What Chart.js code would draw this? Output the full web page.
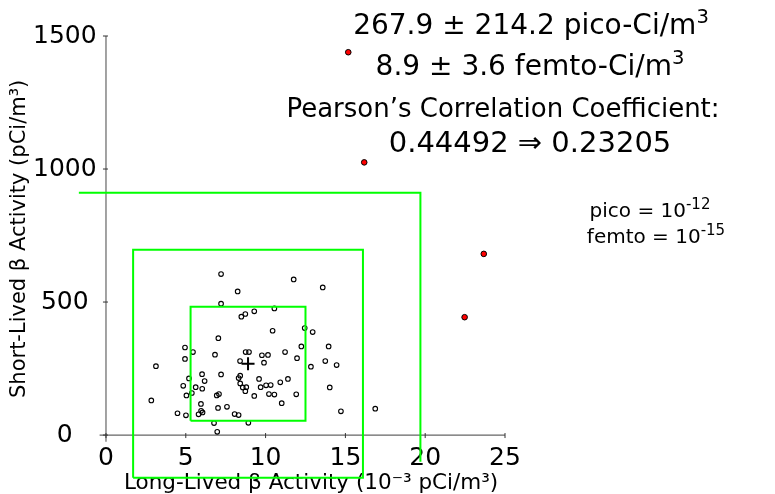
<!DOCTYPE html>
<html><head><meta charset="utf-8">
<script src="https://cdn.jsdelivr.net/npm/chart.js@4.4.1/dist/chart.umd.min.js"></script>
<style>html,body{margin:0;padding:0;background:#fff;}#wrap{width:775px;height:494px;position:relative;}</style>
</head><body><div id="wrap"><canvas id="c" width="775" height="494"></canvas></div>
<script>
// Long-lived beta activity (10^-3 pCi/m^3)
const longLived = [7.21,8.25,11.76,13.58,7.21,8.48,8.73,9.29,10.55,10.44,12.45,12.95,7.04,6.83,8.75,8.96,9.77,10.15,11.22,12.24,13.95,8.40,9.90,11.97,12.84,13.74,14.45,7.21,8.41,8.31,9.59,11.40,10.92,8.41,8.57,8.79,8.73,9.69,10.03,10.32,14.02,6.94,7.08,9.29,10.21,10.55,11.92,11.01,7.02,7.58,8.06,8.31,14.72,16.87,6.77,8.92,6.97,4.95,5.45,4.95,3.13,6.02,5.20,6.18,4.84,5.62,6.03,5.38,5.04,2.84,5.95,5.96,6.05,5.80,4.48,5.01];
// Short-lived beta activity (pCi/m^3)
const shortLived = [605,540,585,555,494,445,455,465,476,392,402,387,364,302,312,312,300,301,312,333,333,278,272,289,257,278,263,228,223,214,211,211,198,194,179,180,165,180,187,188,179,149,154,147,154,152,153,120,102,106,79,75,89,99,45,46,12,329,312,286,259,229,213,203,185,180,174,158,149,130,117,91,85,78,82,74];
// Rejected outliers
const outlierLong = [15.18,16.18,23.67,22.47];
const outlierShort = [1439,1025,681,443];
// Statistics
const meanLong = 8.9, sdLong = 3.6;
const meanShort = 267.9, sdShort = 214.2;
const xTicks = [0,5,10,15,20,25];
const yTicks = [0,500,1000,1500];

const pts = longLived.map((x,i)=>({x:x,y:shortLived[i]}));
const outPts = outlierLong.map((x,i)=>({x:x,y:outlierShort[i]}));
function box(k){
  const x0=meanLong-k*sdLong, x1=meanLong+k*sdLong, y0=meanShort-k*sdShort, y1=meanShort+k*sdShort;
  return [{x:x0,y:y0},{x:x0,y:y1},{x:x1,y:y1},{x:x1,y:y0},{x:x0,y:y0}];
}
// visible part of the 3-sigma box
const box3 = [{x:-1.7,y:meanShort+3*sdShort},{x:meanLong+3*sdLong,y:meanShort+3*sdShort},{x:meanLong+3*sdLong,y:-100}];

const F = "'DejaVu Sans', sans-serif";

function richText(ctx, parts, cx, by, size, supScale){
  const ss = supScale || 0.7;
  let w=0;
  const segs = parts.map(p=>{
    const s = p.sup ? size*ss : size;
    ctx.font = s+"px "+F;
    const mw = ctx.measureText(p.t).width;
    w += mw;
    return {t:p.t, s:s, w:mw, sup:p.sup};
  });
  let x = cx - w/2;
  ctx.textBaseline='alphabetic';
  ctx.textAlign='left';
  ctx.fillStyle='#000';
  segs.forEach(sg=>{
    ctx.font = sg.s+"px "+F;
    ctx.fillText(sg.t, x, sg.sup ? by - size*0.38 : by);
    x += sg.w;
  });
}

const axesPlugin = {
  id:'axesAt0',
  beforeDatasetsDraw(chart){
    const ctx=chart.ctx, xs=chart.scales.x, ys=chart.scales.y;
    const x0=xs.getPixelForValue(0), y0=ys.getPixelForValue(0);
    ctx.save();
    ctx.strokeStyle='#666'; ctx.lineWidth=1.2;
    ctx.beginPath();
    ctx.moveTo(xs.left, y0); ctx.lineTo(xs.right, y0);
    ctx.moveTo(x0, ys.top); ctx.lineTo(x0, ys.bottom);
    ctx.stroke();
    ctx.strokeStyle='#333'; ctx.lineWidth=1;
    ctx.beginPath();
    xTicks.forEach(v=>{const p=xs.getPixelForValue(v); ctx.moveTo(p,y0-2); ctx.lineTo(p,y0+3);});
    yTicks.forEach(v=>{const p=ys.getPixelForValue(v); ctx.moveTo(x0-3,p); ctx.lineTo(x0+2,p);});
    ctx.stroke();
    ctx.restore();
  },
  afterDraw(chart){
    const ctx=chart.ctx;
    ctx.save();
    richText(ctx,[{t:'267.9 ± 214.2 pico-Ci/m'},{t:'3',sup:true}],531,34,28);
    richText(ctx,[{t:'8.9 ± 3.6 femto-Ci/m'},{t:'3',sup:true}],530,75,28);
    richText(ctx,[{t:'Pearson’s Correlation Coefficient:'}],503,117,26);
    richText(ctx,[{t:'0.44492 ⇒ 0.23205'}],530,152,29);
    richText(ctx,[{t:'pico = 10'},{t:'-12',sup:true}],650,217,20,0.75);
    richText(ctx,[{t:'femto = 10'},{t:'-15',sup:true}],656,243,20,0.75);
    ctx.restore();
  }
};

new Chart(document.getElementById('c'),{
  type:'scatter',
  data:{datasets:[
    {data:box3, showLine:true, borderColor:'#00ff00', borderWidth:2, pointRadius:0, clip:false, tension:0},
    {data:box(2), showLine:true, borderColor:'#00ff00', borderWidth:2, pointRadius:0, clip:false, tension:0},
    {data:box(1), showLine:true, borderColor:'#00ff00', borderWidth:2, pointRadius:0, clip:false, tension:0},
    {data:pts, pointRadius:2.3, pointBorderWidth:1.1, pointBorderColor:'#000', pointBackgroundColor:'rgba(0,0,0,0)', clip:false},
    {data:outPts, pointRadius:2.8, pointBorderWidth:1, pointBorderColor:'#000', pointBackgroundColor:'#ff0000', clip:false},
    {data:[{x:meanLong,y:meanShort}], pointStyle:'cross', pointRadius:6.5, pointBorderWidth:2, pointBorderColor:'#000', clip:false}
  ]},
  options:{
    responsive:false, animation:false,
    layout:{padding:{left:0,right:270,top:36,bottom:0}},
    plugins:{legend:{display:false},tooltip:{enabled:false}},
    scales:{
      x:{type:'linear',min:-0.4,max:25,
        afterBuildTicks:(s)=>{s.ticks=xTicks.map(v=>({value:v}));},
        afterFit:(s)=>{s.height=494-441.7;},
        grid:{display:false,drawTicks:false}, border:{display:false},
        ticks:{color:'#000',font:{family:F,size:25},padding:2,maxRotation:0,autoSkip:false,callback:(v)=>String(v)},
        title:{display:true,text:'\u2002 Long-Lived β Activity (10⁻³ pCi/m³)',color:'#000',font:{family:F,size:21.5},padding:{top:0,bottom:-2}}
      },
      y:{type:'linear',min:-25,max:1500,
        afterBuildTicks:(s)=>{s.ticks=yTicks.map(v=>({value:v}));},
        afterFit:(s)=>{s.width=99.6;},
        grid:{display:false,drawTicks:false}, border:{display:false},
        ticks:{color:'#000',font:{family:F,size:25},padding:3,crossAlign:'center',autoSkip:false,callback:(v)=>String(v)},
        title:{display:true,text:'Short-Lived β Activity (pCi/m³)',color:'#000',font:{family:F,size:21},padding:{top:7,bottom:0}}
      }
    }
  },
  plugins:[axesPlugin]
});
</script></body></html>
